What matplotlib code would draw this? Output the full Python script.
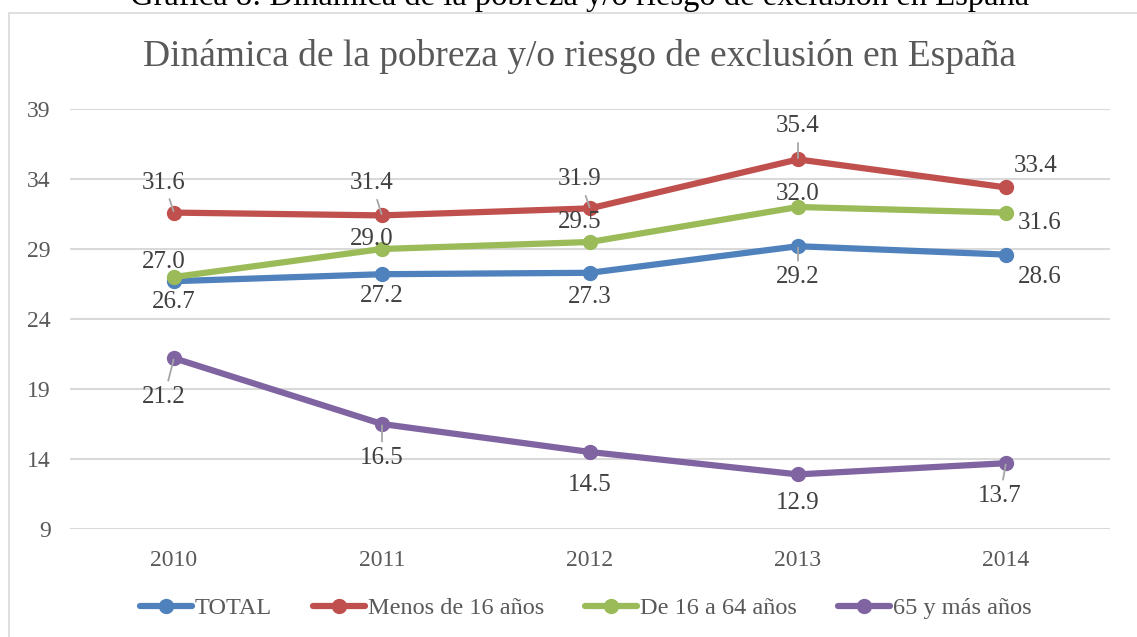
import matplotlib
matplotlib.use("Agg")
import matplotlib.pyplot as plt
from matplotlib.patches import Rectangle

plt.rcParams['font.family'] = ['Liberation Serif', 'DejaVu Serif']

years = ["2010", "2011", "2012", "2013", "2014"]
total = [26.7, 27.2, 27.3, 29.2, 28.6]
menos16 = [31.6, 31.4, 31.9, 35.4, 33.4]
de16a64 = [27.0, 29.0, 29.5, 32.0, 31.6]
mas65 = [21.2, 16.5, 14.5, 12.9, 13.7]
series_names = ["TOTAL", "Menos de 16 años", "De 16 a 64 años", "65 y más años"]
yticks = [9, 14, 19, 24, 29, 34, 39]

colors = ["#4F81BD", "#C0504D", "#9BBB59", "#8064A2"]
# label offsets in pixels (dx, dy), and whether leader line is drawn
offsets = [
    [(0, -21, False), (0, -22, False), (0, -24, False), (0, -31, True), (34, -22, False)],
    [(-10, 30, True), (-10, 32, True), (-10, 29, True), (0, 33, True), (30, 21, False)],
    [(-10, 15, False), (-10, 10, False), (-10, 20, False), (0, 13, False), (34, -10, False)],
    [(-10, -39, True), (0, -34, True), (0, -33, False), (0, -29, False), (-6, -33, True)],
]

fig = plt.figure(figsize=(11.37, 6.37), dpi=100)
W, H = 1137, 637
ax = fig.add_axes([70 / W, 1 - 529 / H, (1110 - 70) / W, (529 - 109) / H])

fig.patches.append(Rectangle((8.5 / W, -0.1), 1.2, 1 - 13 / H + 0.1, transform=fig.transFigure,
                             fill=False, edgecolor="#D9D9D9", linewidth=1.2))

x = list(range(len(years)))
all_series = [total, menos16, de16a64, mas65]
for name, vals, c, offs in zip(series_names, all_series, colors, offsets):
    ax.plot(x, vals, color=c, linewidth=4.5, marker="o", markersize=10,
            label=name, solid_capstyle="round", zorder=3)
    for xi, v, (dx, dy, lead) in zip(x, vals, offs):
        kw = {}
        if lead:
            kw["arrowprops"] = dict(arrowstyle="-", color="#A6A6A6", lw=1.3,
                                    shrinkA=2, shrinkB=1)
        ax.annotate(f"{v:.1f}", xy=(xi, v), xytext=(dx, dy), textcoords="offset pixels",
                    ha="center", va="center", fontsize=18, color="#404040", zorder=4, **kw)

ax.set_xlim(-0.5, len(years) - 0.5)
ax.set_ylim(9, 39)
ax.set_yticks(yticks)
ax.set_xticks(x)
ax.set_xticklabels(years)
ax.grid(axis="y", color="#D9D9D9", linewidth=1.5)
ax.set_axisbelow(True)
for s in ax.spines.values():
    s.set_visible(False)
ax.tick_params(length=0, labelsize=17, colors="#595959")
ax.tick_params(axis="y", pad=14)
ax.tick_params(axis="x", pad=15)

fig.text(0.51, 1 - 57 / H, "Dinámica de la pobreza y/o riesgo de exclusión en España",
         ha="center", va="center", fontsize=27, color="#595959")
fig.text(0.51, 1 - 5 / H, "Gráfica 8: Dinámica de la pobreza y/o riesgo de exclusión en España",
         ha="center", va="baseline", fontsize=23.5, color="#000000")

fig.legend(loc="center", bbox_to_anchor=(0.515, 1 - 608 / H), ncol=4, frameon=False,
           fontsize=17.5, labelcolor="#595959", handlelength=2.15, handletextpad=0.1,
           columnspacing=1.7)

fig.savefig("out.png", dpi=100)
